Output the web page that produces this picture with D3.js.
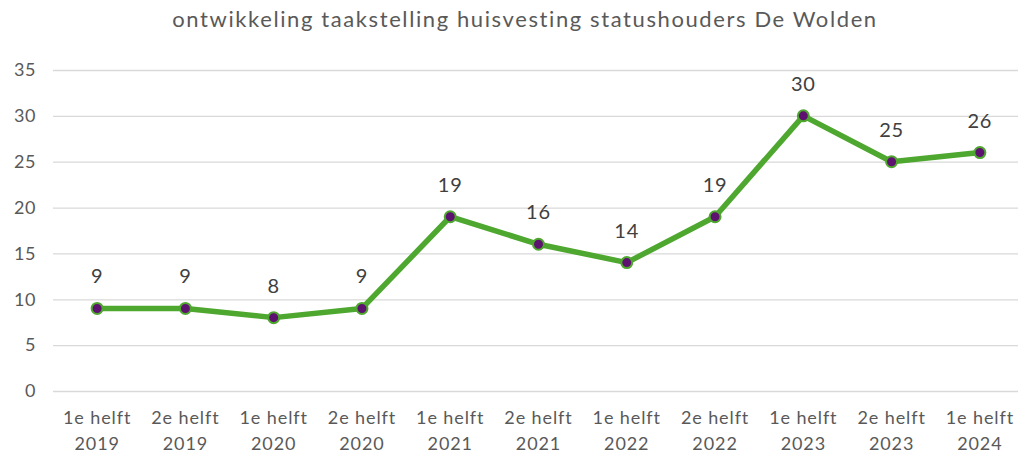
<!DOCTYPE html>
<html><head><meta charset="utf-8">
<script src="https://cdn.jsdelivr.net/npm/d3@7"></script>
<style>body{margin:0;background:#fff}svg{display:block}text{font-family:Lato,"Open Sans",sans-serif}</style>
</head><body><svg id="c" width="1027" height="455"></svg>
<script>
const title = "ontwikkeling taakstelling huisvesting statushouders De Wolden";
const periods = ["1e helft","2e helft","1e helft","2e helft","1e helft","2e helft","1e helft","2e helft","1e helft","2e helft","1e helft"];
const years = ["2019","2019","2020","2020","2021","2021","2022","2022","2023","2023","2024"];
const values = [9,9,8,9,19,16,14,19,30,25,26];
const yTicks = [0,5,10,15,20,25,30,35];

(function(){
const svg = d3.select("#c");
const mL = 53, mR = 1024, mT = 70, mB = 391;
const cats = periods.map((p,i)=>p+" "+years[i]);
const x = d3.scaleBand().domain(cats).range([mL,mR]);
const y = d3.scaleLinear().domain([0,35]).range([mB,mT]);

svg.append("text").attr("x",525).attr("y",27).attr("text-anchor","middle")
  .attr("font-size",22).attr("letter-spacing",1.6).attr("fill","#595959").text(title);

const gy = svg.append("g").attr("transform",`translate(${mL},0)`)
  .call(d3.axisLeft(y).tickValues(yTicks).tickSize(-(1018-mL)).tickPadding(17));
gy.select(".domain").remove();
gy.selectAll(".tick line").attr("stroke","#d9d9d9").attr("stroke-width",1.3);
gy.selectAll(".tick text").attr("font-size",18).attr("letter-spacing",0.6).attr("fill","#595959");

const gx = svg.append("g").attr("transform",`translate(0,${mB})`)
  .call(d3.axisBottom(x).tickSize(0).tickFormat(()=>""));
gx.select(".domain").remove();
gx.selectAll(".tick text").attr("dy",null).each(function(d,i){
  const t = d3.select(this);
  t.append("tspan").attr("x",0).attr("y",33).attr("font-size",18).attr("letter-spacing",0.9).attr("fill","#595959").text(periods[i]);
  t.append("tspan").attr("x",0).attr("y",59).attr("font-size",18).attr("letter-spacing",0.9).attr("fill","#595959").text(years[i]);
});

const cx = (d,i)=>x(cats[i])+x.bandwidth()/2;
svg.append("path").datum(values)
  .attr("d", d3.line().x(cx).y(d=>y(d)))
  .attr("fill","none").attr("stroke","#4ea72e").attr("stroke-width",5.5).attr("stroke-linejoin","round");
svg.selectAll("circle.m").data(values).join("circle").attr("class","m")
  .attr("cx",cx).attr("cy",d=>y(d)).attr("r",5.5)
  .attr("fill","#5e1270").attr("stroke","#4ea72e").attr("stroke-width",2);
svg.selectAll("text.lbl").data(values).join("text").attr("class","lbl")
  .attr("x",cx).attr("y",d=>y(d)-25).attr("text-anchor","middle")
  .attr("font-size",20).attr("letter-spacing",0.8).attr("fill","#404040").text(d=>d);
})();
</script></body></html>
